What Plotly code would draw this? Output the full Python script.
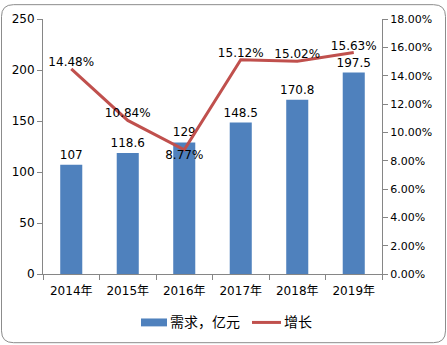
import plotly.graph_objects as go

years = ["2014年", "2015年", "2016年", "2017年", "2018年", "2019年"]
demand = [107, 118.6, 129, 148.5, 170.8, 197.5]
growth = [14.48, 10.84, 8.77, 15.12, 15.02, 15.63]
growth_pos = ["top center", "top center", "bottom center", "top center", "top center", "top center"]
bar_name = "需求，亿元"
line_name = "增长"

W, H = 447, 345
ML, MR, MT, MB = 43, 65, 16, 71
FONT = "DejaVu Sans, Noto Sans CJK SC, sans-serif"
AXIS = "#868686"
BLUE, RED = "#4F81BD", "#C0504D"

fig = go.Figure()
fig.add_trace(go.Bar(
    x=years, y=demand, name=bar_name,
    marker=dict(color=BLUE, line=dict(width=0)),
    text=[f"{v:g}" for v in demand], textposition="outside",
    textfont=dict(size=12, color="#000000", family=FONT),
    constraintext="none", cliponaxis=False, width=0.39,
))
fig.add_trace(go.Scatter(
    x=years, y=growth, name=line_name, yaxis="y2", mode="lines+text",
    line=dict(color=RED, width=3),
    text=[f"{v:.2f}%" for v in growth], textposition=growth_pos,
    textfont=dict(size=12, color="#000000", family=FONT),
    cliponaxis=False,
))

# pixel -> paper coordinate helpers
pw, ph = W - ML - MR, H - MT - MB
def px(x): return (x - ML) / pw
def py(y): return 1 - (y - MT) / ph

# rounded outer frame
x0, x1, y0, y1, r = 1.5, 445.5, 1.5, 343.5, 12
path = (f"M {px(x0+r)},{py(y0)} L {px(x1-r)},{py(y0)} Q {px(x1)},{py(y0)} {px(x1)},{py(y0+r)} "
        f"L {px(x1)},{py(y1-r)} Q {px(x1)},{py(y1)} {px(x1-r)},{py(y1)} "
        f"L {px(x0+r)},{py(y1)} Q {px(x0)},{py(y1)} {px(x0)},{py(y1-r)} "
        f"L {px(x0)},{py(y0+r)} Q {px(x0)},{py(y0)} {px(x0+r)},{py(y0)} Z")

shapes = [
    dict(type="path", xref="paper", yref="paper", path=path,
         line=dict(color="#8c8c8c", width=1), fillcolor="rgba(0,0,0,0)", layer="below"),
    # legend keys
    dict(type="rect", xref="paper", yref="paper", x0=px(141), x1=px(167), y0=py(327), y1=py(319),
         fillcolor=BLUE, line=dict(width=0)),
    dict(type="line", xref="paper", yref="paper", x0=px(252), x1=px(281), y0=py(323), y1=py(323),
         line=dict(color=RED, width=3)),
]
annotations = [
    dict(text=bar_name, xref="paper", yref="paper", x=px(168), y=py(323), xanchor="left",
         yanchor="middle", showarrow=False, font=dict(size=14, family=FONT)),
    dict(text=line_name, xref="paper", yref="paper", x=px(282), y=py(323), xanchor="left",
         yanchor="middle", showarrow=False, font=dict(size=14, family=FONT)),
]

fig.update_layout(
    width=W, height=H,
    margin=dict(l=ML, r=MR, t=MT, b=MB),
    paper_bgcolor="white", plot_bgcolor="white",
    font=dict(family=FONT, size=12, color="#000000"),
    showlegend=False,
    xaxis=dict(showline=True, linecolor=AXIS, linewidth=1, ticks="outside",
               tickcolor=AXIS, ticklen=5, showgrid=False, tickson="boundaries",
               ticklabelstandoff=6, tickfont=dict(size=12)),
    yaxis=dict(range=[0, 250], dtick=50, showline=True, linecolor=AXIS,
               ticks="outside", tickcolor=AXIS, ticklen=5, showgrid=False,
               zeroline=False, tickfont=dict(size=12)),
    yaxis2=dict(range=[0, 18], dtick=2, overlaying="y", side="right",
                showline=True, linecolor=AXIS, ticks="outside", tickcolor=AXIS,
                ticklen=5, showgrid=False, zeroline=False,
                tickformat=".2f", ticksuffix="%", tickfont=dict(size=11)),
    shapes=shapes,
    annotations=annotations,
)

fig.write_html("out.html")
